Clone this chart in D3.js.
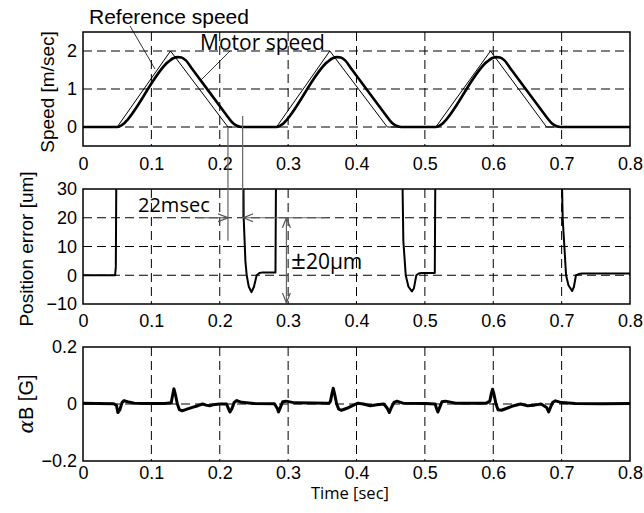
<!DOCTYPE html>
<html>
<head>
<meta charset="utf-8">
<script src="https://cdn.jsdelivr.net/npm/d3@7"></script>
<style>
  body { margin: 0; background: #fff; }
  svg { display: block; }
</style>
</head>
<body>
<script>
// ---- data ----
var timeTicks = [0, 0.1, 0.2, 0.3, 0.4, 0.5, 0.6, 0.7, 0.8];
var speedTicks = [0, 1, 2];
var errTicks = [-10, 0, 10, 20, 30];
var bTicks = [-0.2, 0, 0.2];

// reference speed [sec, m/sec]
var refSpeed = [[0,0],[0.05,0],[0.128,2],[0.212,0],[0.283,0],[0.361,2],[0.445,0],
                [0.516,0],[0.596,2],[0.678,0],[0.8,0]];

// motor speed [sec, m/sec]
var motorSpeed = [[0,0],[0.05,0],[0.055,0.03],[0.06,0.09],[0.065,0.19],[0.125,1.72],[0.132,1.81],
  [0.139,1.84],[0.144,1.83],[0.15,1.76],[0.16,1.52],[0.21,0.31],[0.215,0.19],[0.22,0.09],
  [0.225,0.035],[0.23,0.008],[0.234,0],
  [0.283,0],[0.288,0.03],[0.293,0.09],[0.298,0.19],[0.358,1.72],[0.365,1.81],[0.372,1.84],
  [0.377,1.83],[0.383,1.76],[0.393,1.52],[0.443,0.31],[0.448,0.19],[0.453,0.09],[0.458,0.035],
  [0.463,0.008],[0.467,0],
  [0.516,0],[0.521,0.03],[0.526,0.09],[0.531,0.19],[0.591,1.72],[0.598,1.81],[0.605,1.84],
  [0.61,1.83],[0.616,1.76],[0.626,1.52],[0.676,0.31],[0.681,0.19],[0.686,0.09],[0.691,0.035],
  [0.696,0.008],[0.7,0],[0.8,0]];

// position error [sec, um] (values of 45 are off the top of the plot)
var posError = [[0,0],[0.047,0],[0.048,3],[0.049,45],[0.2345,45],[0.235,20],[0.2375,5],
  [0.2394,0],[0.2425,-4],[0.2465,-5.9],[0.25,-4],[0.254,0],[0.258,0.8],[0.263,1],[0.2815,1],
  [0.2825,45],[0.4665,45],[0.4685,12],[0.472,0],[0.476,-4],[0.481,-5.6],[0.484,-4.5],
  [0.4875,0],[0.491,0.6],[0.495,0.8],[0.5145,0.8],[0.5155,45],[0.6995,45],[0.7015,20],
  [0.704,10],[0.7065,0],[0.71,-3.5],[0.7153,-5.5],[0.718,-4],[0.721,0],[0.725,0.4],
  [0.73,0.6],[0.8,0.6]];

// alpha B [sec, G]
var alphaB = [[0,0.003],[0.02,0.002],[0.045,0.001],[0.049,-0.005],[0.051,-0.03],[0.054,-0.02],
  [0.057,0.005],[0.06,0.012],[0.065,0.008],[0.075,0.003],[0.1,0.002],[0.12,0.002],[0.129,0.004],
  [0.131,0.03],[0.133,0.053],[0.135,0.035],[0.138,0],[0.141,-0.02],[0.145,-0.024],[0.152,-0.018],
  [0.16,-0.012],[0.168,-0.006],[0.175,0],[0.18,-0.004],[0.185,-0.006],[0.19,-0.003],[0.2,0],
  [0.21,0],[0.213,-0.018],[0.215,-0.028],[0.218,-0.015],[0.221,0.005],[0.225,0.012],
  [0.232,0.006],[0.25,0.002],[0.28,0.001],[0.284,-0.015],[0.286,-0.028],[0.289,-0.01],
  [0.292,0.008],[0.297,0.01],[0.31,0.004],[0.36,0.003],[0.362,0.01],[0.364,0.035],[0.366,0.055],
  [0.368,0.035],[0.371,0],[0.374,-0.018],[0.378,-0.022],[0.386,-0.015],[0.395,-0.005],
  [0.402,0.003],[0.41,0],[0.42,-0.006],[0.43,-0.003],[0.44,0],[0.445,-0.015],[0.448,-0.03],
  [0.451,-0.012],[0.455,0.006],[0.459,0.01],[0.468,0.003],[0.5,0.002],[0.515,0],[0.517,-0.015],
  [0.519,-0.028],[0.522,-0.01],[0.525,0.008],[0.53,0.01],[0.545,0.003],[0.59,0.003],[0.595,0.01],
  [0.597,0.035],[0.599,0.052],[0.601,0.035],[0.604,0],[0.607,-0.02],[0.612,-0.022],[0.62,-0.015],
  [0.63,-0.006],[0.64,0],[0.65,-0.006],[0.66,-0.004],[0.67,0],[0.678,-0.012],[0.681,-0.028],
  [0.684,-0.01],[0.687,0.006],[0.691,0.011],[0.7,0.005],[0.72,0.002],[0.76,0.001],[0.8,0.002]];

// ---- drawing ----
var W = 644, H = 513;
var svg = d3.select("body").append("svg").attr("width", W).attr("height", H);

var x = d3.scaleLinear().domain([0, 0.8]).range([83, 630]);

var panels = [
  { id: "spd", y: d3.scaleLinear().domain([-0.5, 2.5]).range([146, 32]), ticks: speedTicks, hgrid: speedTicks, pad: 11 },
  { id: "err", y: d3.scaleLinear().domain([-10, 30]).range([304, 189]), ticks: errTicks, hgrid: [0, 10, 20], pad: 10 },
  { id: "ab",  y: d3.scaleLinear().domain([-0.2, 0.2]).range([461, 347]), ticks: bTicks, hgrid: [0], pad: 5 }
];

var tickFont = "'Liberation Sans', Arial, sans-serif";
var labelFont = "'Open Sans', sans-serif";

var defs = svg.append("defs");
function marker(id) {
  defs.append("marker").attr("id", id)
    .attr("viewBox", "0 0 10 10").attr("refX", 10).attr("refY", 5)
    .attr("markerWidth", 10).attr("markerHeight", 10).attr("markerUnits", "userSpaceOnUse")
    .attr("orient", "auto-start-reverse")
    .append("path").attr("d", "M0,1 L10,5 L0,9")
    .attr("fill", "none").attr("stroke", "#555").attr("stroke-width", 1.2);
}
marker("arr");

panels.forEach(function(p) {
  var y0 = p.y.range()[0], y1 = p.y.range()[1];
  defs.append("clipPath").attr("id", "clip-" + p.id)
    .append("rect").attr("x", x.range()[0]).attr("y", y1)
    .attr("width", x.range()[1] - x.range()[0]).attr("height", y0 - y1);

  var g = svg.append("g");
  // vertical grid
  g.selectAll(".vg").data(timeTicks.slice(1, -1)).enter().append("line")
    .attr("x1", function(d) { return x(d); }).attr("x2", function(d) { return x(d); })
    .attr("y1", y1).attr("y2", y0)
    .attr("stroke", "#000").attr("stroke-width", 1).attr("stroke-dasharray", "9,5");
  // horizontal grid
  g.selectAll(".hg").data(p.hgrid).enter().append("line")
    .attr("x1", x.range()[0]).attr("x2", x.range()[1])
    .attr("y1", function(d) { return p.y(d); }).attr("y2", function(d) { return p.y(d); })
    .attr("stroke", "#000").attr("stroke-width", 1).attr("stroke-dasharray", "9,5");

  // x axis labels
  var xa = g.append("g").attr("transform", "translate(0," + y0 + ")")
    .call(d3.axisBottom(x).tickValues(timeTicks).tickSize(0).tickPadding(p.pad).tickFormat(d3.format("")));
  xa.select(".domain").remove();
  xa.selectAll("text").attr("font-family", tickFont).attr("font-size", 18).attr("fill", "#000");

  // y axis labels
  var ya = g.append("g").attr("transform", "translate(" + x.range()[0] + ",0)")
    .call(d3.axisLeft(p.y).tickValues(p.ticks).tickSize(0).tickPadding(6).tickFormat(d3.format("")));
  ya.select(".domain").remove();
  ya.selectAll("text").attr("font-family", tickFont).attr("font-size", 18).attr("fill", "#000");

  p.g = g;
});

function drawLine(p, data, width, curve) {
  var line = d3.line().x(function(d) { return x(d[0]); }).y(function(d) { return p.y(d[1]); })
    .curve(curve || d3.curveLinear);
  p.g.append("path").datum(data).attr("d", line)
    .attr("clip-path", "url(#clip-" + p.id + ")")
    .attr("fill", "none").attr("stroke", "#000").attr("stroke-width", width)
    .attr("stroke-linejoin", "round");
}

drawLine(panels[0], refSpeed, 1);
drawLine(panels[0], motorSpeed, 2.6, d3.curveMonotoneX);
drawLine(panels[1], posError, 2);
drawLine(panels[2], alphaB, 3);

// frames
panels.forEach(function(p) {
  p.g.append("rect").attr("x", x.range()[0]).attr("y", p.y.range()[1])
    .attr("width", x.range()[1] - x.range()[0]).attr("height", p.y.range()[0] - p.y.range()[1])
    .attr("fill", "none").attr("stroke", "#000").attr("stroke-width", 1.5);
});

// y axis titles
function yTitle(txt, cx, cy, size) {
  return svg.append("text").attr("transform", "translate(" + cx + "," + cy + ") rotate(-90)")
    .attr("text-anchor", "middle").attr("dominant-baseline", "central")
    .attr("font-family", tickFont).attr("font-size", size).text(txt);
}
yTitle("Speed [m/sec]", 47, 92, 19);
yTitle("Position error [um]", 26, 249, 19);
var ab = yTitle("", 26, 404, 20);
ab.append("tspan").attr("font-style", "italic").attr("font-family", "'DejaVu Serif', serif").text("\u03b1");
ab.append("tspan").text("B [G]");

svg.append("text").attr("x", 350).attr("y", 499).attr("text-anchor", "middle")
  .attr("font-family", labelFont).attr("font-size", 16.5).text("Time [sec]");

// ---- annotations ----
var ps = panels[0].y, pe = panels[1].y;
var grey = "#666";
// leader lines to the speed curves
svg.append("text").attr("x", 89).attr("y", 24).attr("font-family", tickFont).attr("font-size", 21)
  .text("Reference speed");
svg.append("line").attr("x1", 130).attr("y1", 26).attr("x2", 155).attr("y2", 69)
  .attr("stroke", "#000").attr("stroke-width", 0.8);
svg.append("text").attr("x", 200).attr("y", 50).attr("font-family", labelFont).attr("font-size", 21)
  .text("Motor speed");
svg.append("line").attr("x1", 230).attr("y1", 51).attr("x2", 201).attr("y2", 80)
  .attr("stroke", "#000").attr("stroke-width", 0.8);

// 22 msec delay markers
svg.append("line").attr("x1", x(0.212)).attr("x2", x(0.212)).attr("y1", ps(0)).attr("y2", pe(12))
  .attr("stroke", grey).attr("stroke-width", 1.2);
svg.append("line").attr("x1", x(0.2335)).attr("x2", x(0.2335)).attr("y1", ps(0.29)).attr("y2", pe(20))
  .attr("stroke", grey).attr("stroke-width", 1.2);
svg.append("line").attr("x1", x(0.167)).attr("x2", x(0.212)).attr("y1", pe(20)).attr("y2", pe(20))
  .attr("stroke", grey).attr("stroke-width", 1.2).attr("marker-end", "url(#arr)");
svg.append("line").attr("x1", x(0.355)).attr("x2", x(0.2345)).attr("y1", pe(20)).attr("y2", pe(20))
  .attr("stroke", grey).attr("stroke-width", 1.2).attr("marker-end", "url(#arr)");
svg.append("text").attr("x", 138).attr("y", 212).attr("font-family", labelFont).attr("font-size", 20)
  .text("22msec");

// +-20 um band
svg.append("line").attr("x1", x(0.2975)).attr("x2", x(0.2975)).attr("y1", pe(20)).attr("y2", pe(-9.6))
  .attr("stroke", grey).attr("stroke-width", 1.2)
  .attr("marker-start", "url(#arr)").attr("marker-end", "url(#arr)");
var pm = svg.append("text").attr("x", 291).attr("y", 269).attr("font-family", labelFont).attr("font-size", 21);
pm.append("tspan").attr("font-size", 26).text("\u00b1");
pm.append("tspan").text("20\u03bcm");
</script>
</body>
</html>
